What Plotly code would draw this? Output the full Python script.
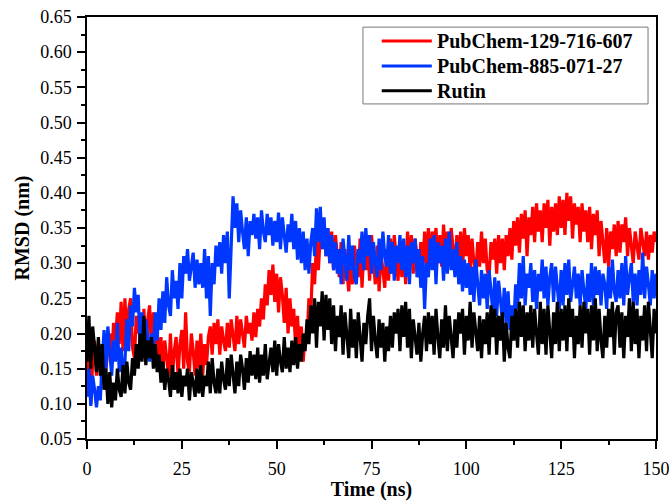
import plotly.graph_objects as go

# Sampling of the trajectories (ns)
TIME_STEP_NS = 0.5
N_POINTS = 301
time_ns = [i * TIME_STEP_NS for i in range(N_POINTS)]

series_names = ["PubChem-129-716-607", "PubChem-885-071-27", "Rutin"]

rmsd_pubchem_129716607 = [
    0.120, 0.175, 0.100, 0.160, 0.190, 0.140, 0.185, 0.150, 0.130, 0.190,
    0.150, 0.175, 0.200, 0.160, 0.215, 0.190, 0.230, 0.185, 0.245, 0.175,
    0.250, 0.190, 0.235, 0.250, 0.180, 0.165, 0.225, 0.200, 0.215, 0.170,
    0.235, 0.165, 0.220, 0.240, 0.175, 0.230, 0.160, 0.205, 0.150, 0.195,
    0.145, 0.190, 0.165, 0.140, 0.200, 0.135, 0.175, 0.195, 0.140, 0.185,
    0.205, 0.150, 0.230, 0.160, 0.145, 0.200, 0.175, 0.140, 0.190, 0.150,
    0.200, 0.140, 0.185, 0.155, 0.195, 0.210, 0.170, 0.215, 0.185, 0.220,
    0.170, 0.210, 0.190, 0.175, 0.215, 0.180, 0.220, 0.200, 0.175, 0.225,
    0.185, 0.220, 0.195, 0.180, 0.225, 0.200, 0.215, 0.190, 0.230, 0.195,
    0.235, 0.210, 0.250, 0.220, 0.270, 0.240, 0.290, 0.255, 0.298, 0.245,
    0.285, 0.230, 0.280, 0.255, 0.215, 0.265, 0.200, 0.250, 0.210, 0.235,
    0.180, 0.225, 0.170, 0.210, 0.160, 0.200, 0.190, 0.250, 0.230, 0.300,
    0.270, 0.330, 0.290, 0.340, 0.320, 0.355, 0.310, 0.350, 0.300, 0.345,
    0.290, 0.340, 0.310, 0.280, 0.330, 0.270, 0.320, 0.295, 0.260, 0.310,
    0.270, 0.325, 0.300, 0.280, 0.335, 0.265, 0.320, 0.290, 0.330, 0.275,
    0.340, 0.300, 0.270, 0.325, 0.260, 0.315, 0.290, 0.265, 0.320, 0.275,
    0.335, 0.285, 0.340, 0.300, 0.275, 0.330, 0.280, 0.325, 0.270, 0.345,
    0.300, 0.340, 0.285, 0.335, 0.310, 0.280, 0.330, 0.290, 0.345, 0.300,
    0.350, 0.295, 0.345, 0.320, 0.350, 0.300, 0.340, 0.295, 0.355, 0.310,
    0.345, 0.300, 0.350, 0.320, 0.295, 0.340, 0.305, 0.345, 0.290, 0.350,
    0.310, 0.340, 0.290, 0.335, 0.300, 0.285, 0.330, 0.295, 0.345, 0.300,
    0.335, 0.290, 0.280, 0.330, 0.305, 0.335, 0.285, 0.340, 0.300, 0.335,
    0.290, 0.340, 0.310, 0.350, 0.305, 0.360, 0.325, 0.365, 0.315, 0.370,
    0.335, 0.375, 0.310, 0.365, 0.340, 0.380, 0.330, 0.385, 0.345, 0.375,
    0.330, 0.385, 0.350, 0.390, 0.325, 0.380, 0.345, 0.385, 0.340, 0.395,
    0.350, 0.390, 0.340, 0.400, 0.360, 0.395, 0.335, 0.385, 0.355, 0.380,
    0.330, 0.385, 0.345, 0.375, 0.330, 0.380, 0.320, 0.370, 0.340, 0.375,
    0.310, 0.360, 0.325, 0.300, 0.350, 0.295, 0.345, 0.320, 0.355, 0.310,
    0.360, 0.315, 0.355, 0.330, 0.365, 0.310, 0.350, 0.325, 0.300, 0.345,
    0.320, 0.305, 0.350, 0.330, 0.310, 0.345, 0.305, 0.340, 0.315, 0.345,
    0.330,
]

rmsd_pubchem_88507127 = [
    0.110, 0.150, 0.097, 0.140, 0.120, 0.095, 0.125, 0.105, 0.160, 0.205,
    0.150, 0.210, 0.175, 0.140, 0.190, 0.160, 0.215, 0.145, 0.180, 0.135,
    0.160, 0.220, 0.175, 0.240, 0.210, 0.265, 0.230, 0.255, 0.180, 0.230,
    0.165, 0.220, 0.195, 0.160, 0.200, 0.175, 0.230, 0.190, 0.250, 0.205,
    0.260, 0.215, 0.280, 0.240, 0.225, 0.290, 0.250, 0.275, 0.235, 0.300,
    0.250, 0.310, 0.285, 0.320, 0.275, 0.300, 0.315, 0.265, 0.305, 0.270,
    0.300, 0.265, 0.320, 0.250, 0.310, 0.225, 0.300, 0.270, 0.325, 0.295,
    0.330, 0.285, 0.340, 0.300, 0.345, 0.250, 0.330, 0.395, 0.350, 0.385,
    0.330, 0.375, 0.345, 0.320, 0.365, 0.310, 0.360, 0.340, 0.370, 0.335,
    0.365, 0.320, 0.375, 0.345, 0.330, 0.370, 0.340, 0.365, 0.325, 0.360,
    0.330, 0.372, 0.320, 0.365, 0.340, 0.315, 0.355, 0.330, 0.370, 0.320,
    0.360, 0.305, 0.350, 0.300, 0.345, 0.290, 0.335, 0.285, 0.330, 0.350,
    0.310, 0.378, 0.330, 0.380, 0.320, 0.365, 0.310, 0.350, 0.300, 0.340,
    0.290, 0.330, 0.285, 0.320, 0.270, 0.335, 0.305, 0.275, 0.340, 0.290,
    0.325, 0.280, 0.270, 0.320, 0.300, 0.345, 0.290, 0.350, 0.310, 0.340,
    0.285, 0.330, 0.300, 0.280, 0.335, 0.290, 0.345, 0.310, 0.295, 0.340,
    0.285, 0.330, 0.275, 0.325, 0.300, 0.340, 0.290, 0.335, 0.280, 0.325,
    0.270, 0.330, 0.300, 0.335, 0.280, 0.320, 0.265, 0.310, 0.235, 0.300,
    0.280, 0.335, 0.290, 0.340, 0.270, 0.330, 0.300, 0.325, 0.275, 0.335,
    0.285, 0.345, 0.290, 0.320, 0.280, 0.330, 0.270, 0.310, 0.260, 0.305,
    0.265, 0.300, 0.255, 0.295, 0.245, 0.305, 0.270, 0.240, 0.290, 0.250,
    0.285, 0.235, 0.290, 0.260, 0.230, 0.280, 0.225, 0.275, 0.250, 0.220,
    0.265, 0.215, 0.260, 0.205, 0.240, 0.210, 0.270, 0.235, 0.300, 0.250,
    0.310, 0.240, 0.285, 0.265, 0.300, 0.245, 0.290, 0.235, 0.285, 0.260,
    0.305, 0.250, 0.295, 0.240, 0.280, 0.300, 0.245, 0.295, 0.265, 0.235,
    0.290, 0.240, 0.300, 0.255, 0.305, 0.245, 0.270, 0.295, 0.250, 0.285,
    0.240, 0.290, 0.260, 0.235, 0.285, 0.245, 0.300, 0.240, 0.295, 0.255,
    0.290, 0.240, 0.285, 0.270, 0.235, 0.295, 0.250, 0.305, 0.260, 0.245,
    0.290, 0.250, 0.300, 0.240, 0.310, 0.255, 0.280, 0.300, 0.245, 0.285,
    0.240, 0.290, 0.255, 0.315, 0.250, 0.295, 0.270, 0.240, 0.290, 0.250,
    0.285,
]

rmsd_rutin = [
    0.160, 0.225, 0.150, 0.210, 0.180, 0.145, 0.195, 0.140, 0.185, 0.120,
    0.150, 0.100, 0.145, 0.095, 0.130, 0.105, 0.150, 0.120, 0.110, 0.155,
    0.115, 0.160, 0.130, 0.120, 0.165, 0.140, 0.185, 0.150, 0.200, 0.160,
    0.225, 0.155, 0.190, 0.165, 0.195, 0.150, 0.185, 0.145, 0.170, 0.130,
    0.160, 0.120, 0.150, 0.135, 0.110, 0.155, 0.120, 0.145, 0.115, 0.150,
    0.110, 0.140, 0.125, 0.150, 0.105, 0.145, 0.130, 0.110, 0.150, 0.115,
    0.155, 0.110, 0.140, 0.125, 0.160, 0.115, 0.165, 0.130, 0.115, 0.150,
    0.115, 0.160, 0.135, 0.120, 0.165, 0.125, 0.170, 0.140, 0.115, 0.160,
    0.125, 0.170, 0.150, 0.120, 0.165, 0.130, 0.175, 0.140, 0.170, 0.135,
    0.180, 0.130, 0.170, 0.140, 0.185, 0.135, 0.160, 0.180, 0.145, 0.190,
    0.140, 0.185, 0.160, 0.145, 0.195, 0.150, 0.180, 0.145, 0.190, 0.155,
    0.195, 0.150, 0.185, 0.160, 0.200, 0.175, 0.220, 0.185, 0.240, 0.200,
    0.250, 0.180, 0.245, 0.210, 0.260, 0.190, 0.255, 0.205, 0.250, 0.185,
    0.240, 0.175, 0.225, 0.195, 0.240, 0.170, 0.230, 0.200, 0.165, 0.235,
    0.180, 0.220, 0.165, 0.230, 0.195, 0.160, 0.215, 0.185, 0.225, 0.250,
    0.175, 0.225, 0.190, 0.165, 0.220, 0.180, 0.215, 0.160, 0.210, 0.175,
    0.225, 0.180, 0.230, 0.200, 0.235, 0.175, 0.240, 0.195, 0.245, 0.180,
    0.235, 0.165, 0.220, 0.190, 0.170, 0.215, 0.160, 0.200, 0.225, 0.175,
    0.230, 0.185, 0.225, 0.170, 0.235, 0.195, 0.165, 0.220, 0.180, 0.240,
    0.175, 0.225, 0.190, 0.165, 0.220, 0.180, 0.230, 0.200, 0.235, 0.170,
    0.225, 0.190, 0.245, 0.180, 0.230, 0.200, 0.175, 0.225, 0.165, 0.220,
    0.185, 0.230, 0.170, 0.240, 0.195, 0.235, 0.170, 0.225, 0.190, 0.230,
    0.160, 0.215, 0.180, 0.165, 0.225, 0.190, 0.235, 0.180, 0.245, 0.195,
    0.240, 0.175, 0.230, 0.190, 0.240, 0.180, 0.235, 0.200, 0.170, 0.245,
    0.185, 0.235, 0.170, 0.240, 0.195, 0.165, 0.230, 0.185, 0.245, 0.175,
    0.235, 0.190, 0.240, 0.175, 0.250, 0.195, 0.235, 0.165, 0.225, 0.185,
    0.240, 0.180, 0.245, 0.200, 0.235, 0.170, 0.240, 0.190, 0.250, 0.175,
    0.235, 0.190, 0.165, 0.225, 0.180, 0.235, 0.195, 0.245, 0.170, 0.230,
    0.240, 0.180, 0.230, 0.165, 0.225, 0.195, 0.250, 0.175, 0.245, 0.185,
    0.235, 0.165, 0.225, 0.190, 0.240, 0.175, 0.245, 0.195, 0.165, 0.235,
    0.200,
]

x_ticks = [0, 25, 50, 75, 100, 125, 150]
y_ticks = [0.05, 0.10, 0.15, 0.20, 0.25, 0.30, 0.35, 0.40, 0.45, 0.50, 0.55, 0.60, 0.65]

colors = ["#ff0000", "#0037ff", "#000000"]
series_values = [rmsd_pubchem_129716607, rmsd_pubchem_88507127, rmsd_rutin]

FONT = "Liberation Serif"

fig = go.Figure()
for name, vals, col in zip(series_names, series_values, colors):
    fig.add_trace(go.Scatter(
        x=time_ns[:len(vals)], y=vals, mode="lines", name=name,
        line=dict(color=col, width=3.2), showlegend=False,
    ))

axis_common = dict(
    showgrid=False, zeroline=False, automargin=False,
    showline=True, linecolor="black", linewidth=1.5, mirror=True,
    ticks="outside", ticklen=8, tickwidth=1.5, tickcolor="black",
    tickfont=dict(family=FONT, size=18, color="black"),
    ticklabeloverflow="allow",
)

fig.update_xaxes(
    range=[0, 150], tickvals=x_ticks, ticktext=[str(v) for v in x_ticks],
    ticklabelstandoff=5,
    minor=dict(ticks="outside", ticklen=4, dtick=12.5, tickcolor="black", tickwidth=1.5),
    title=dict(text="<b>Time (ns)</b>", font=dict(family=FONT, size=20, color="black"), standoff=3),
    **axis_common,
)
fig.update_yaxes(
    range=[0.05, 0.65], tickvals=y_ticks, ticktext=[f"{v:.2f}" for v in y_ticks],
    ticklabelstandoff=2,
    minor=dict(ticks="outside", ticklen=4, dtick=0.025, tickcolor="black", tickwidth=1.5),
    title=dict(text="<b>RMSD (nm)</b>", font=dict(family=FONT, size=20, color="black"), standoff=5),
    **axis_common,
)

# Legend drawn as a boxed key in paper coordinates
legend_box = dict(x0=0.485, x1=0.986, y0=0.794, y1=0.976)
legend_rows_y = [0.943, 0.884, 0.825]
key_x0, key_x1, text_x = 0.518, 0.606, 0.612

shapes = [dict(type="rect", xref="paper", yref="paper", **legend_box,
               line=dict(color="#777777", width=1), fillcolor="white", layer="above")]
annotations = []
for name, col, yy in zip(series_names, colors, legend_rows_y):
    shapes.append(dict(type="line", xref="paper", yref="paper",
                       x0=key_x0, x1=key_x1, y0=yy, y1=yy,
                       line=dict(color=col, width=3), layer="above"))
    annotations.append(dict(xref="paper", yref="paper", x=text_x, y=yy,
                            xanchor="left", yanchor="middle", showarrow=False,
                            text=f"<b>{name}</b>",
                            font=dict(family=FONT, size=20, color="black")))

fig.update_layout(
    width=669, height=501,
    margin=dict(l=87, r=13, t=17, b=62),
    paper_bgcolor="white", plot_bgcolor="white",
    showlegend=False,
    shapes=shapes, annotations=annotations,
)

fig.write_html("out.html", config={"displayModeBar": False},
               post_script="document.body.style.margin='0';")
